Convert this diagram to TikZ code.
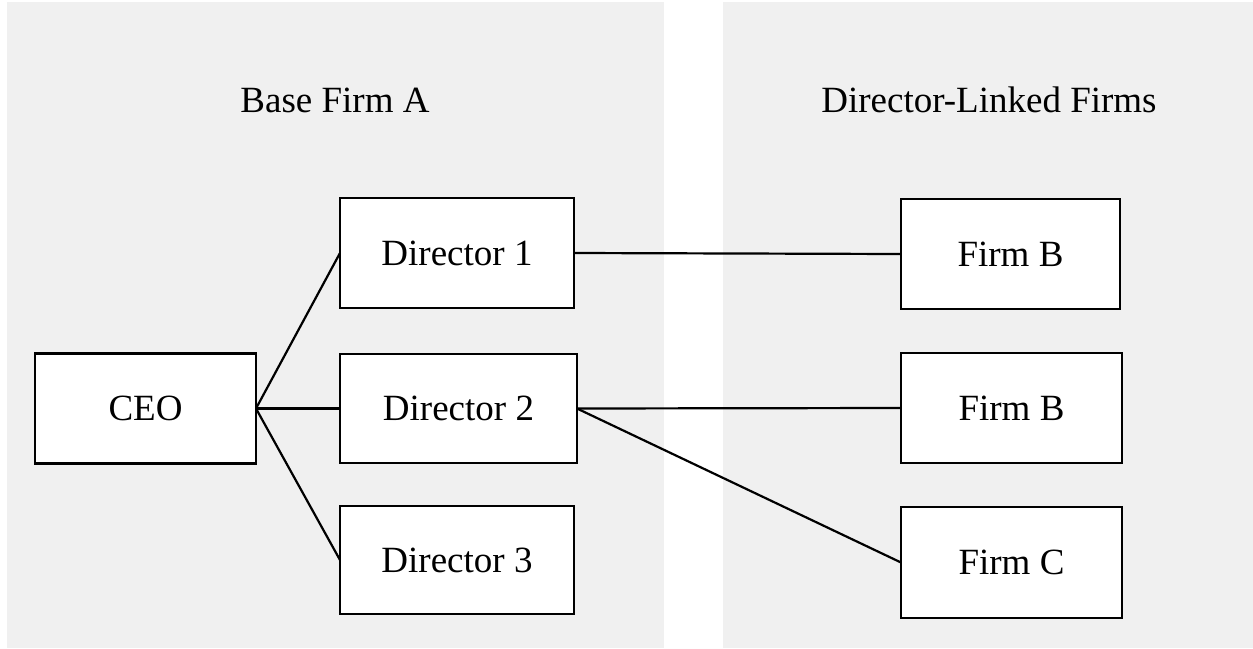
\documentclass[tikz,border=0pt]{standalone}
\usepackage{fontspec}
\setmainfont{Liberation Serif}
\definecolor{panelgray}{HTML}{F0F0F0}
\begin{document}
\begin{tikzpicture}[x=1pt,y=-1pt,
  box/.style={draw=black,fill=white,line width=2.6pt,inner sep=0pt,outer sep=0pt,
    font=\fontsize{37}{40}\selectfont},
  title/.style={font=\fontsize{37}{40}\selectfont,inner sep=0pt},
  link/.style={line width=2.2pt}]
\useasboundingbox (0,0) rectangle (1253,648);
\fill[panelgray] (7,2) rectangle (664,648);
\fill[panelgray] (723,2) rectangle (1253,648);
\node[title] (tA) at (335,100) {Base Firm A};
\node[title] (tB) at (989,100) {Director-Linked Firms};
\node[box,minimum width=221pt,minimum height=110pt] (ceo) at (145.5,408.5) {CEO};
\node[box,minimum width=234pt,minimum height=110pt] (d1) at (457,253) {Director 1};
\node[box,minimum width=237pt,minimum height=109pt] (d2) at (458.5,408.5) {Director 2};
\node[box,minimum width=234pt,minimum height=108pt] (d3) at (457,560) {Director 3};
\node[box,minimum width=219pt,minimum height=110pt] (fb1) at (1010.5,254) {Firm B};
\node[box,minimum width=221pt,minimum height=110pt] (fb2) at (1011.5,408) {Firm B};
\node[box,minimum width=221pt,minimum height=111pt] (fc) at (1011.5,562.5) {Firm C};
\draw[link] (ceo.east) -- (d1.west);
\draw[link] (ceo.east) -- (d2.west);
\draw[link] (ceo.east) -- (d3.west);
\draw[link] (d1.east) -- (fb1.west);
\draw[link] (d2.east) -- (fb2.west);
\draw[link] (d2.east) -- (fc.west);
\end{tikzpicture}
\end{document}
